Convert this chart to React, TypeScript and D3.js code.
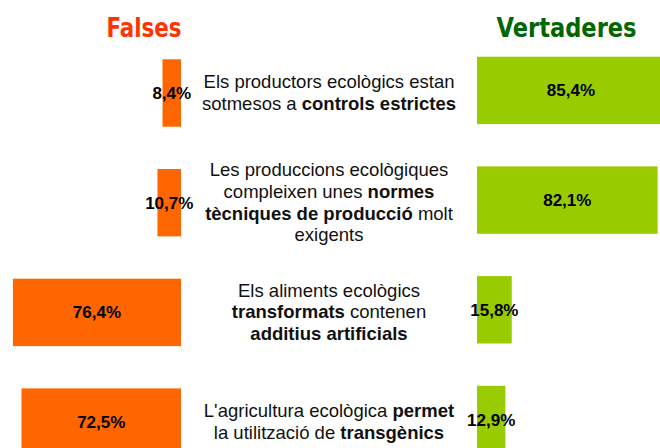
import React from "react";
import * as d3 from "d3";

const falses = [8.4, 10.7, 76.4, 72.5];
const vertaderes = [85.4, 82.1, 15.8, 12.9];
const falseLabels = ["8,4%", "10,7%", "76,4%", "72,5%"];
const trueLabels = ["85,4%", "82,1%", "15,8%", "12,9%"];
// each statement: lines of [text, bold]
const statements: [string, boolean][][][] = [
  [
    [["Els productors ecològics estan", false]],
    [["sotmesos a ", false], ["controls estrictes", true]],
  ],
  [
    [["Les produccions ecològiques", false]],
    [["compleixen unes ", false], ["normes", true]],
    [["tècniques de producció", true], [" molt", false]],
    [["exigents", false]],
  ],
  [
    [["Els aliments ecològics", false]],
    [["transformats", true], [" contenen", false]],
    [["additius artificials", true]],
  ],
  [
    [["L'agricultura ecològica ", false], ["permet", true]],
    [["la utilització de ", false], ["transgènics", true]],
  ],
];
const titleFalse = "Falses";
const titleTrue = "Vertaderes";

export default function App() {
  const W = 660, H = 448;
  const xLeft = d3.scaleLinear().domain([0, 100]).range([181, 181 - 220]);
  const xRight = d3.scaleLinear().domain([0, 100]).range([477, 477 + 220]);
  const rowTop = d3.scaleLinear().domain([0, 1]).range([59.3, 59.3 + 109.7]);
  const barH = 67.4;
  const rightShift = -2.6;
  const font = "'Liberation Sans', Arial, Helvetica, sans-serif";
  const titleFont = "'DejaVu Sans', 'Liberation Sans', sans-serif";
  return (
    <svg width={W} height={H} style={{ position: "absolute", left: 0, top: 0 }}>
      <rect width={W} height={H} fill="#ffffff" />
      <text x={144} y={36.5} textAnchor="middle" fontFamily={titleFont} fontWeight="bold" fontSize={26}
        fill="#ff3300" textLength={75} lengthAdjust="spacingAndGlyphs">{titleFalse}</text>
      <text x={566.5} y={36.5} textAnchor="middle" fontFamily={titleFont} fontWeight="bold" fontSize={26}
        fill="#006600" textLength={140} lengthAdjust="spacingAndGlyphs">{titleTrue}</text>
      {falses.map((v, i) => {
        const y = rowTop(i);
        const x0 = xLeft(v);
        const x1 = xLeft(0);
        return (
          <g key={"f" + i}>
            <rect x={x0} y={y} width={x1 - x0} height={barH} fill="#ff6600" />
            <text x={(x0 + x1) / 2} y={y + barH / 2 + 6} textAnchor="middle" fontFamily={font}
              fontWeight="bold" fontSize={17} fill="#000">{falseLabels[i]}</text>
          </g>
        );
      })}
      {vertaderes.map((v, i) => {
        const y = rowTop(i) + rightShift;
        const x0 = xRight(0);
        const x1 = xRight(v);
        return (
          <g key={"t" + i}>
            <rect x={x0} y={y} width={x1 - x0} height={barH} fill="#99cc00" />
            <text x={(x0 + x1) / 2} y={y + barH / 2 + 6} textAnchor="middle" fontFamily={font}
              fontWeight="bold" fontSize={17} fill="#000">{trueLabels[i]}</text>
          </g>
        );
      })}
      {statements.map((lines, i) => {
        const cy = rowTop(i) + barH / 2;
        const lh = 21.6;
        const first = cy + 6 - ((lines.length - 1) / 2) * lh;
        return (
          <g key={"s" + i}>
            {lines.map((segs, j) => (
              <text key={j} x={329} y={first + j * lh} textAnchor="middle" fontFamily={font}
                fontSize={18.5} fill="#111">
                {segs.map(([t, b], k) => (
                  <tspan key={k} fontWeight={b ? "bold" : "normal"}>{t}</tspan>
                ))}
              </text>
            ))}
          </g>
        );
      })}
    </svg>
  );
}
